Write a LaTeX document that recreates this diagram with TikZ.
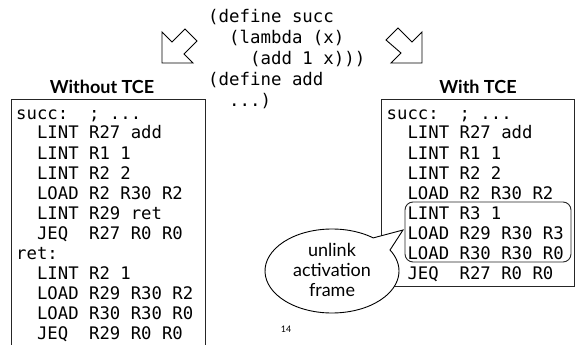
\documentclass[tikz,border=0pt]{standalone}
\usepackage{fontspec}
\setmainfont{Lato}
\newfontfamily\codefont{DejaVu Sans Mono}
\newcommand\mydots{...}
\begin{document}
\begin{tikzpicture}[x=1pt,y=1pt,
  codeline/.style={anchor=base west,inner sep=0pt,font=\codefont\fontsize{17.3}{20}\selectfont},
  schemeline/.style={anchor=base west,inner sep=0pt,font=\codefont\fontsize{17.4}{21}\selectfont},
  headtext/.style={anchor=base,inner sep=0pt,font=\bfseries\fontsize{18}{20}\selectfont},
  bubbletext/.style={anchor=base,inner sep=0pt,font=\fontsize{18}{20}\selectfont},
  box/.style={draw=black!85,line width=0.9pt},
  blockarrow/.style={draw=black,line width=0.9pt,fill=white,line join=miter},
  callout/.style={draw=black,line width=0.9pt,fill=white}]
\useasboundingbox (0,0) rectangle (576,-345);
% boxes
\draw[box] (11.5,-350) -- (11.5,-99.5) -- (205,-99.5) -- (205,-350);
\draw[box] (381,-99.5) rectangle (574,-286);
\draw[box,rounded corners=8pt] (405,-202) rectangle (571,-262);
% block arrows
\draw[blockarrow] (162,-63) -- (162,-32) -- (172,-42) -- (185,-29) -- (197,-41) -- (184,-54) -- (193,-63) -- cycle;
\draw[blockarrow] (422,-63) -- (422,-32) -- (412,-42) -- (398,-28) -- (386,-40) -- (401,-53) -- (391,-63) -- cycle;
% scheme code
\foreach \t [count=\i from 0] in {{(define succ},{~~(lambda (x)},{~~~~(add 1 x)))},{(define add},{~~\mydots)}}
  \node[schemeline] (S\i) at (208,{-22.5-21*\i}) {\t};
% headings
\node[headtext] (h1) at (102,-93.5) {Without TCE};
\node[headtext] (h2) at (478,-93) {With TCE};
% left code
\foreach \t [count=\i from 0] in {{succ:~~;~\mydots},{~~LINT~R27~add},{~~LINT~R1~1},{~~LINT~R2~2},{~~LOAD~R2~R30~R2},{~~LINT~R29~ret},{~~JEQ~~R27~R0~R0},{ret:},{~~LINT~R2~1},{~~LOAD~R29~R30~R2},{~~LOAD~R30~R30~R0},{~~JEQ~~R29~R0~R0}}
  \node[codeline] (L\i) at (16,{-119-20*\i}) {\t};
% right code
\foreach \t [count=\i from 0] in {{succ:~~;~\mydots},{~~LINT~R27~add},{~~LINT~R1~1},{~~LINT~R2~2},{~~LOAD~R2~R30~R2},{~~LINT~R3~1},{~~LOAD~R29~R30~R3},{~~LOAD~R30~R30~R0},{~~JEQ~~R27~R0~R0}}
  \node[codeline] (R\i) at (386.5,{-119-20*\i}) {\t};
% callout
\path[callout] (332,-271) ++(52:67 and 42) arc[start angle=52,end angle=390,x radius=67,y radius=42] -- (403,-230) -- cycle;
\node[bubbletext] (b1) at (332,-256.5) {unlink};
\node[bubbletext] (b2) at (332,-276.5) {activation};
\node[bubbletext] (b3) at (332,-296.5) {frame};
% page number
\node[anchor=base,inner sep=0pt,font=\fontsize{9}{10}\selectfont] (pg) at (286,-332) {14};
\end{tikzpicture}
\end{document}
